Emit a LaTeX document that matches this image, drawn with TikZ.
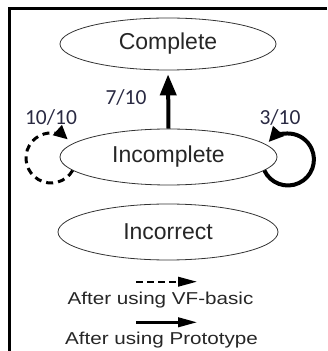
\documentclass[tikz,border=0pt]{standalone}
\usepackage{fontspec}
\setmainfont{Liberation Sans}
\newfontfamily\labfont{Carlito}
\usetikzlibrary{arrows.meta,shapes.geometric}
\definecolor{labcol}{rgb}{0.16,0.16,0.26}
\tikzset{
  state/.style={ellipse, draw=black!80, line width=0.8pt, inner sep=0pt,
    text=black!85, font=\fontsize{23}{27}\selectfont},
  prob/.style={text=labcol, font=\labfont\fontsize{21.5}{24}\selectfont, inner sep=0pt, anchor=base},
  legtext/.style={text=black!85, font=\fontsize{17.2}{20}\selectfont, inner sep=0pt, anchor=base},
  bigarrow/.style={line width=4pt, -{Triangle[length=21pt,width=16pt]}},
  dashloop/.style={line width=3pt, dash pattern=on 7pt off 5pt, -{Triangle[length=14pt,width=13pt]}},
  solidloop/.style={line width=4pt, -{Triangle[length=15pt,width=14pt]}},
  legdash/.style={line width=2.2pt, dash pattern=on 6.5pt off 4.5pt, -{Triangle[length=19pt,width=9.5pt]}},
  legsolid/.style={line width=2.5pt, -{Triangle[length=19pt,width=9.5pt]}},
  frame/.style={line width=2.5pt, black}
}
\begin{document}
\begin{tikzpicture}[x=1pt,y=1pt]
\useasboundingbox (0,0) rectangle (327,351);
% frame (left and top)
\coordinate (f1) at (9.5,0);
\coordinate (f2) at (9.5,342.5);
\coordinate (f3) at (327,342.5);
\draw[frame] (f1) -- (f2) -- (f3);
% states
\node[state, minimum width=216pt, minimum height=52pt] (comp) at (168,307) {Complete};
\node[state, minimum width=217pt, minimum height=56pt] (inc) at (168.5,194) {Incomplete};
\node[state, minimum width=220pt, minimum height=56pt] (incor) at (168,119) {Incorrect};
% transitions
\draw[bigarrow, shorten >=4pt] (inc.north) -- (comp.south);
\draw[dashloop] (inc.188) arc[start angle=-30, end angle=-312, radius=25pt];
\draw[solidloop] (inc.352) arc[start angle=-155, end angle=138, radius=26pt];
% labels
\node[prob] (l7) at (126,246) {7/10};
\node[prob] (l10) at (51,226) {10/10};
\node[prob] (l3) at (280,226.5) {3/10};
% legend
\coordinate (da) at (136,69.3);
\coordinate (db) at (197,69.3);
\coordinate (sa) at (136,28.7);
\coordinate (sb) at (197,28.7);
\draw[legdash] (da) -- (db);
\draw[legsolid] (sa) -- (sb);
\node[legtext] (t1) at (160.5,46) {\scalebox{1.2}[1]{After using VF-basic}};
\node[legtext] (t2) at (161.5,6) {\scalebox{1.2}[1]{After using Prototype}};
\end{tikzpicture}
\end{document}
